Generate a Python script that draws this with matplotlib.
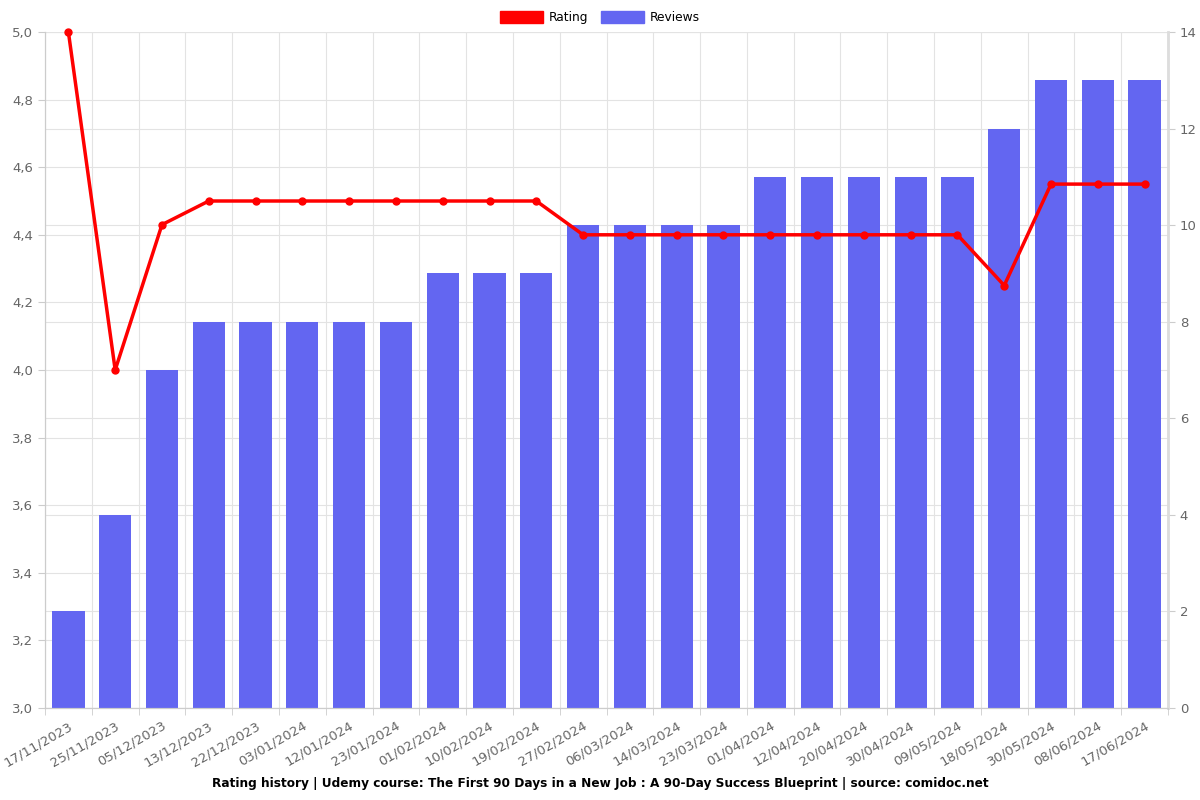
import matplotlib
matplotlib.use("Agg")
import matplotlib.pyplot as plt
from matplotlib.ticker import FuncFormatter, MultipleLocator
from matplotlib.patches import Patch

dates = ["17/11/2023", "25/11/2023", "05/12/2023", "13/12/2023", "22/12/2023",
         "03/01/2024", "12/01/2024", "23/01/2024", "01/02/2024", "10/02/2024",
         "19/02/2024", "27/02/2024", "06/03/2024", "14/03/2024", "23/03/2024",
         "01/04/2024", "12/04/2024", "20/04/2024", "30/04/2024", "09/05/2024",
         "18/05/2024", "30/05/2024", "08/06/2024", "17/06/2024"]
reviews = [2, 4, 7, 8, 8, 8, 8, 8, 9, 9, 9, 10, 10, 10, 10, 11, 11, 11, 11, 11,
           12, 13, 13, 13]
rating = [5.0, 4.0, 4.43, 4.5, 4.5, 4.5, 4.5, 4.5, 4.5, 4.5, 4.5, 4.4, 4.4,
          4.4, 4.4, 4.4, 4.4, 4.4, 4.4, 4.4, 4.25, 4.55, 4.55, 4.55]

title = "Rating history | Udemy course: The First 90 Days in a New Job : A 90-Day Success Blueprint | source: comidoc.net"

bar_color = "#6366F1"
line_color = "#FF0000"
grid_color = "#E3E3E3"
tick_color = "#666666"

R_MIN, R_MAX = 3.0, 5.0
C_MAX = 14

fig = plt.figure(figsize=(12, 8), dpi=100)
ax = fig.add_axes([45 / 1200, 1 - 708 / 800, (1168 - 45) / 1200, (708 - 32) / 800])
ax2 = ax.twinx()

n = len(dates)
x = list(range(n))

# grid lines drawn behind the bars (on the bar axes)
for i in range(n + 1):
    ax2.axvline(i - 0.5, color=grid_color, linewidth=0.8, zorder=0.5)
r_ticks = [R_MIN + 0.2 * k for k in range(11)]
for v in r_ticks:
    ax2.axhline((v - R_MIN) / (R_MAX - R_MIN) * C_MAX, color=grid_color, linewidth=0.8, zorder=0.5)
for v in range(0, C_MAX + 1, 2):
    ax2.axhline(v, color=grid_color, linewidth=0.8, zorder=0.5)

ax2.bar(x, reviews, width=0.69, color=bar_color, zorder=2)
ax2.set_ylim(0, C_MAX)
ax2.yaxis.set_major_locator(MultipleLocator(2))

ax.set_zorder(ax2.get_zorder() + 1)
ax.patch.set_visible(False)
ax.plot(x, rating, color=line_color, linewidth=2.5, marker="o", markersize=5, zorder=5,
        clip_on=False)
ax.set_ylim(R_MIN, R_MAX)
ax.set_xlim(-0.5, n - 0.5)
ax2.set_xlim(-0.5, n - 0.5)
ax.yaxis.set_major_locator(MultipleLocator(0.2))
ax.yaxis.set_major_formatter(FuncFormatter(lambda v, p: f"{v:.1f}".replace(".", ",")))

ax.set_xticks(x)
ax.set_xticklabels(dates, rotation=30, ha="right", rotation_mode="anchor")
ax.set_xticks([i - 0.5 for i in range(n + 1)], minor=True)

for a in (ax, ax2):
    a.spines["top"].set_visible(False)
    a.spines["left"].set_color("#CCCCCC")
    a.spines["right"].set_color("#DDDDDD")
    a.spines["bottom"].set_color("#CCCCCC")
    a.tick_params(colors=tick_color, labelsize=9.5, length=5)
    a.tick_params(axis="both", color="#CCCCCC")
ax.tick_params(axis="x", which="major", length=0, pad=8)
ax.tick_params(axis="x", which="minor", length=5, color="#CCCCCC")
ax2.spines["right"].set_linewidth(2)

handles = [Patch(facecolor=line_color, edgecolor=line_color),
           Patch(facecolor=bar_color, edgecolor=bar_color)]
fig.legend(handles, ["Rating", "Reviews"], loc="upper center", bbox_to_anchor=(0.5, 1.0),
           ncol=2, frameon=False, fontsize=8.8, handlelength=3.5, handleheight=1.1,
           columnspacing=1.0, handletextpad=0.5)

fig.text(0.5, 1 - 783 / 800, title, ha="center", va="center", fontsize=8.7, fontweight="bold")

fig.savefig("out.png", dpi=100)
